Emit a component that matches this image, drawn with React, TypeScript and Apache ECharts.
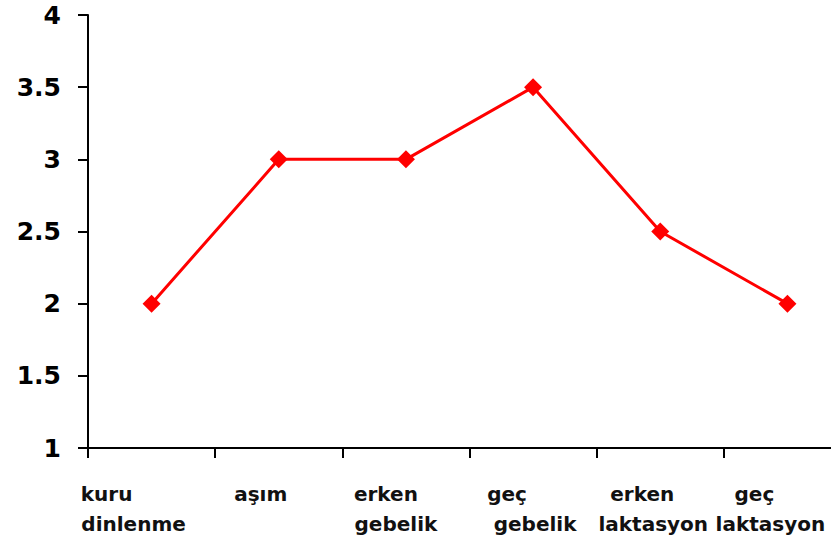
import React, { useEffect, useRef } from "react";
import * as echarts from "echarts";

const categories = ["kuru\ndinlenme", "aşım", "erken\ngebelik", "geç\ngebelik", "erken\nlaktasyon", "geç\nlaktasyon"];
const values = [2, 3, 3, 3.5, 2.5, 2];
const yMin = 1;
const yMax = 4;
const yInterval = 0.5;

// horizontal offset (px) of each label line's centre from its category centre
const lineOffsets = [
  [-45, -18],
  [-18],
  [-20, -10],
  [-26, 2],
  [-18, -7],
  [-33, -17],
];

export default function App() {
  const ref = useRef<HTMLDivElement>(null);
  useEffect(() => {
    if (!ref.current) return;
    const chart = echarts.init(ref.current, null, { renderer: "svg" });
    const rich: Record<string, any> = {};
    lineOffsets.forEach((offs, i) => {
      offs.forEach((d, j) => {
        rich[`c${i}l${j}`] = {
          fontFamily: "DejaVu Sans",
          fontWeight: "bold",
          fontSize: 20,
          lineHeight: 30,
          color: "#111",
          padding: d < 0 ? [0, -2 * d, 0, 0] : [0, 0, 0, 2 * d],
        };
      });
    });
    chart.setOption({
      animation: false,
      backgroundColor: "#ffffff",
      grid: {
        left: 88,
        width: 763,
        top: 15,
        bottom: 98,
        containLabel: false,
        outerBoundsMode: "none",
      },
      xAxis: {
        type: "category",
        data: categories,
        boundaryGap: true,
        axisLine: { show: true, lineStyle: { color: "#000", width: 2 } },
        axisTick: { show: true, length: 10, lineStyle: { color: "#000", width: 2 }, alignWithLabel: false },
        axisLabel: {
          interval: 0,
          margin: 31,
          hideOverlap: false,
          formatter: (v: string) => {
            const i = categories.indexOf(v);
            return v
              .split("\n")
              .map((line, j) => `{c${i}l${j}|${line}}`)
              .join("\n");
          },
          rich,
        },
        splitLine: { show: false },
      },
      yAxis: {
        type: "value",
        min: yMin,
        max: yMax,
        interval: yInterval,
        axisLine: { show: true, lineStyle: { color: "#000", width: 2 } },
        axisTick: { show: true, length: 10, lineStyle: { color: "#000", width: 2 } },
        axisLabel: {
          margin: 27,
          fontFamily: "DejaVu Sans",
          fontWeight: "bold",
          fontSize: 25,
          color: "#000",
        },
        splitLine: { show: false },
      },
      series: [
        {
          type: "line",
          data: values,
          symbol: "diamond",
          symbolSize: 18,
          lineStyle: { color: "#ff0000", width: 3 },
          itemStyle: { color: "#ff0000" },
        },
      ],
    });
    return () => chart.dispose();
  }, []);
  return (
    <div
      ref={ref}
      style={{ position: "absolute", left: 0, top: 0, width: 831, height: 546, background: "#fff" }}
    />
  );
}
